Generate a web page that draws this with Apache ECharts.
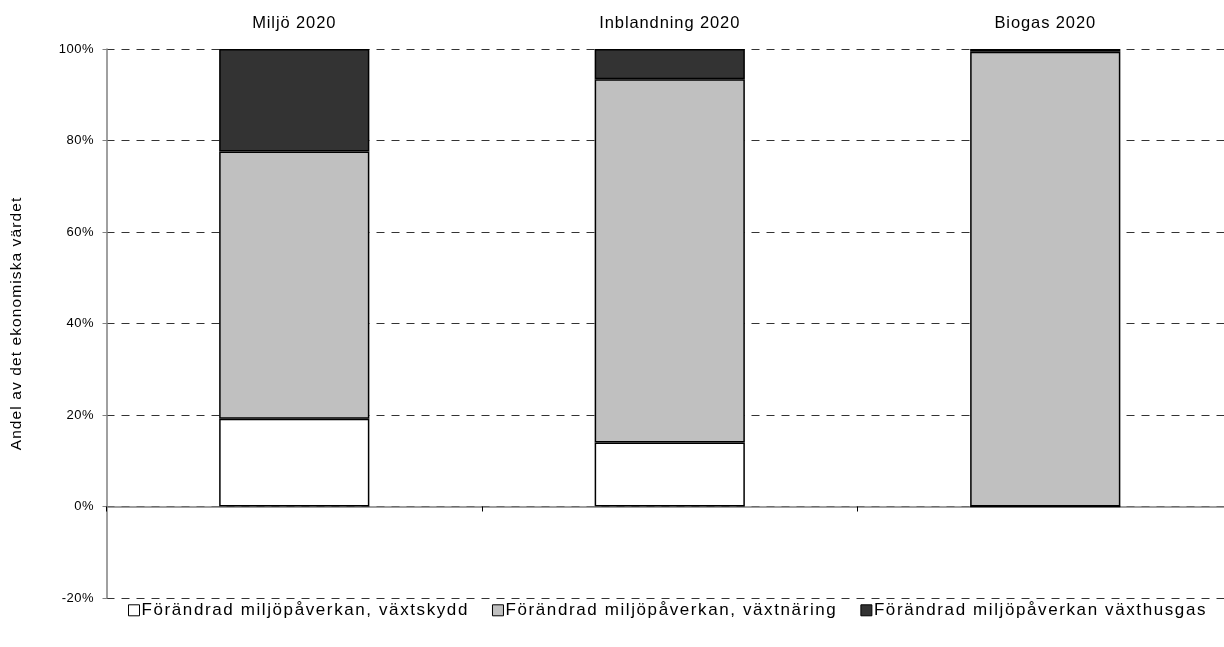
<!DOCTYPE html>
<html>
<head>
<meta charset="utf-8">
<style>
  html, body { margin: 0; padding: 0; background: #fff; }
  #chart { width: 1224px; height: 647px; }
</style>
<script src="https://cdn.jsdelivr.net/npm/echarts@6/dist/echarts.min.js"></script>
</head>
<body>
<div id="chart"></div>
<script>
// Scenarios (columns) and the three stacked shares, in percent of the economic value
const categories = ['Miljö 2020', 'Inblandning 2020', 'Biogas 2020'];
const seriesNames = [
  'Förändrad miljöpåverkan, växtskydd',
  'Förändrad miljöpåverkan, växtnäring',
  'Förändrad miljöpåverkan växthusgas'
];
const vaxtskydd = [19.2, 14.0, 0.0];
const vaxtnaring = [58.4, 79.4, 99.4];
const vaxthusgas = [22.4, 6.6, 0.6];
const yTicks = { min: -20, max: 100, interval: 20 };
const yTitle = 'Andel av det ekonomiska värdet';

const fillColors = ['#FFFFFF', '#C0C0C0', '#333333'];
const font = 'Liberation Sans, Arial, sans-serif';

// Tracking for the chart text, keyed by font size: the canvas letterSpacing is
// set right before text is measured or drawn, so layout and drawing agree.
const TICK_SIZE = 13, CAT_SIZE = 16.5, TITLE_SIZE = 15.5, LEGEND_SIZE = 17;
function trackingFor(sizePx) {
  if (sizePx === TICK_SIZE) return 0.5;
  if (sizePx === CAT_SIZE) return 0.9;
  if (sizePx === TITLE_SIZE) return 1.1;
  if (sizePx === LEGEND_SIZE) return 1.6;
  return 0;
}
(function () {
  const proto = CanvasRenderingContext2D.prototype;
  if (!('letterSpacing' in proto)) return;
  ['fillText', 'strokeText', 'measureText'].forEach(function (fn) {
    const orig = proto[fn];
    proto[fn] = function () {
      const m = /(\d+(?:\.\d+)?)px/.exec(this.font);
      this.letterSpacing = m ? trackingFor(parseFloat(m[1])) + 'px' : '0px';
      return orig.apply(this, arguments);
    };
  });
})();

const chart = echarts.init(document.getElementById('chart'), null, { renderer: 'canvas' });

const values = [vaxtskydd, vaxtnaring, vaxthusgas];
const series = seriesNames.map((name, i) => ({
  name,
  type: 'bar',
  stack: 'total',
  xAxisIndex: 0,
  barWidth: '40%',
  data: values[i],
  itemStyle: { color: fillColors[i], borderColor: '#000', borderWidth: 1.5 },
  emphasis: { disabled: true }
}));

chart.setOption({
  animation: false,
  backgroundColor: '#fff',
  textStyle: { fontFamily: font, color: '#000' },
  // the plot runs a little past the right edge of the canvas
  grid: { left: 106.5, top: 49, width: 1126.5, height: 549, containLabel: false, outerBoundsMode: 'none' },
  legend: {
    left: 128,
    top: 601,
    padding: 0,
    itemWidth: 11,
    itemHeight: 11,
    itemGap: 23,
    icon: 'rect',
    selectedMode: false,
    textStyle: { fontFamily: font, fontSize: LEGEND_SIZE, color: '#000', padding: [0, 0, 0, -3] },
    data: seriesNames.map((n, i) => ({
      name: n,
      itemStyle: { color: fillColors[i], borderColor: '#000', borderWidth: 1 }
    }))
  },
  xAxis: [
    {
      type: 'category',
      data: categories,
      position: 'bottom',
      axisLine: { onZero: true, lineStyle: { color: '#808080', width: 1.5 } },
      axisTick: { show: true, length: 5, lineStyle: { color: '#000' } },
      axisLabel: { show: false },
      splitLine: { show: false }
    },
    {
      type: 'category',
      data: categories,
      position: 'top',
      axisLine: { show: false },
      axisTick: { show: false },
      axisLabel: { show: true, margin: 17, fontSize: CAT_SIZE, color: '#000', fontFamily: font }
    }
  ],
  yAxis: {
    type: 'value',
    min: yTicks.min,
    max: yTicks.max,
    interval: yTicks.interval,
    name: yTitle,
    nameLocation: 'middle',
    nameRotate: 90,
    nameGap: 81,
    nameTextStyle: { fontSize: TITLE_SIZE, color: '#000', fontFamily: font },
    axisLine: { show: true, lineStyle: { color: '#808080', width: 1.5 } },
    axisTick: { show: true, length: 4, lineStyle: { color: '#808080' } },
    axisLabel: { formatter: '{value}%', margin: 12.5, fontSize: TICK_SIZE, color: '#000', fontFamily: font },
    splitLine: { show: true, lineStyle: { type: [8, 7], color: '#333', width: 1 } }
  },
  series
});
</script>
</body>
</html>
